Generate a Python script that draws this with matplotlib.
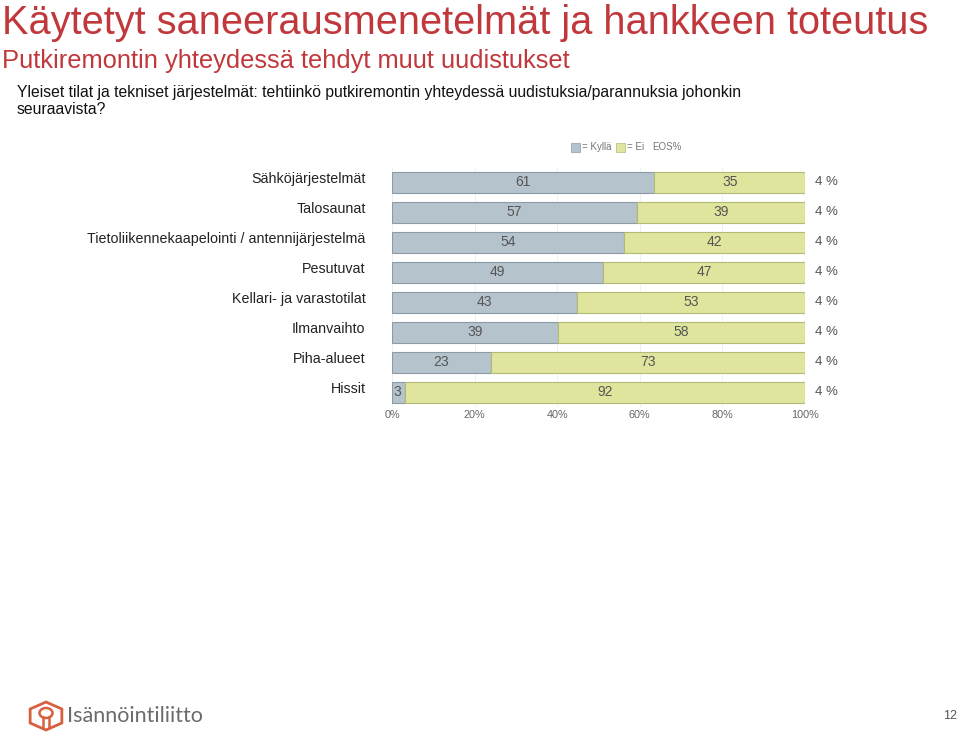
import matplotlib
matplotlib.use("Agg")
import matplotlib.pyplot as plt
from matplotlib.patches import Rectangle, RegularPolygon, Circle
from matplotlib.lines import Line2D
import matplotlib.transforms as mtrans
import numpy as np

categories = ["Sähköjärjestelmät", "Talosaunat", "Tietoliikennekaapelointi / antennijärjestelmä",
              "Pesutuvat", "Kellari- ja varastotilat", "Ilmanvaihto", "Piha-alueet", "Hissit"]
yes_vals = [61, 57, 54, 49, 43, 39, 23, 3]
no_vals = [35, 39, 42, 47, 53, 58, 73, 92]
eos_vals = [4, 4, 4, 4, 4, 4, 4, 4]
xticks = [0, 20, 40, 60, 80, 100]
xtick_labels = ["0%", "20%", "40%", "60%", "80%", "100%"]

base = "Liberation Sans"
plt.rcParams['font.family'] = [base, 'DejaVu Sans']

W, H = 959, 733
fig = plt.figure(figsize=(W / 100, H / 100), dpi=100)

def fx(px):
    return px / W

def fy(py):
    return 1 - py / H

red = "#c1383c"
fig.text(fx(2), fy(23), "Käytetyt saneerausmenetelmät ja hankkeen toteutus", fontsize=28.6,
         color=red, va="center", ha="left")
fig.text(fx(2), fy(61), "Putkiremontin yhteydessä tehdyt muut uudistukset", fontsize=18.4,
         color=red, va="center", ha="left")
fig.text(fx(17), fy(92), "Yleiset tilat ja tekniset järjestelmät: tehtiinkö putkiremontin yhteydessä uudistuksia/parannuksia johonkin",
         fontsize=11.3, color="#111111", va="center", ha="left")
fig.text(fx(17), fy(110), "seuraavista?", fontsize=11.3, color="#111111", va="center", ha="left")

yes_face = "#b5c3cd"
yes_edge = "#8c9ba6"
no_face = "#dfe59c"
no_edge = "#b3ba78"

# legend
leg_y = 147
fig.patches.append(Rectangle((fx(571), fy(leg_y + 5)), 9 / W, 9 / H, transform=fig.transFigure,
                             facecolor=yes_face, edgecolor=yes_edge, lw=0.5))
fig.text(fx(582), fy(leg_y), "= Kyllä", fontsize=7, color="#777777", va="center", ha="left")
fig.patches.append(Rectangle((fx(616), fy(leg_y + 5)), 9 / W, 9 / H, transform=fig.transFigure,
                             facecolor=no_face, edgecolor=no_edge, lw=0.5))
fig.text(fx(627), fy(leg_y), "= Ei", fontsize=7, color="#777777", va="center", ha="left")
fig.text(fx(652), fy(leg_y), "EOS%", fontsize=7, color="#777777", va="center", ha="left")

# axes
ax_left, ax_right = 392, 805
row_top, row_bottom = 167, 407
ax = fig.add_axes([fx(ax_left), fy(row_bottom), (ax_right - ax_left) / W, (row_bottom - row_top) / H])
n = len(categories)
y = np.arange(n)
yes = np.array(yes_vals, dtype=float)
no = np.array(no_vals, dtype=float)
tot = yes + no
yes_p = yes / tot * 100
no_p = no / tot * 100

ax.barh(y, yes_p, height=0.7, color=yes_face, edgecolor=yes_edge, lw=0.8, zorder=3)
ax.barh(y, no_p, left=yes_p, height=0.7, color=no_face, edgecolor=no_edge, lw=0.8, zorder=3)

for i in range(n):
    if yes_vals[i] >= 10:
        ax.text(yes_p[i] / 2, y[i], str(yes_vals[i]), ha="center", va="center", fontsize=10,
                color="#555555", zorder=4)
    else:
        ax.text(0.4, y[i], str(yes_vals[i]), ha="left", va="center", fontsize=10,
                color="#555555", zorder=4)
    ax.text(yes_p[i] + no_p[i] / 2, y[i], str(no_vals[i]), ha="center", va="center", fontsize=10,
            color="#555555", zorder=4)
    ax.text(102.5, y[i], f"{eos_vals[i]} %", ha="left", va="center", fontsize=9.5, color="#555555",
            clip_on=False)

ax.set_xlim(0, 100)
ax.set_ylim(n - 0.5, -0.5)
ax.set_yticks(y)
ax.set_yticklabels(categories, fontsize=10.3, color="#222222")
ax.tick_params(axis="y", length=0, pad=19)
for lbl in ax.get_yticklabels():
    lbl.set_verticalalignment("center")
    lbl.set_transform(lbl.get_transform() + mtrans.ScaledTranslation(0, 3 / 100, fig.dpi_scale_trans))
ax.set_xticks(xticks)
ax.set_xticklabels(xtick_labels, fontsize=7.8, color="#666666")
ax.tick_params(axis="x", length=0, pad=2)
for s in ax.spines.values():
    s.set_visible(False)
ax.grid(axis="x", color="#eeeeee", lw=0.6, zorder=0)
ax.set_axisbelow(True)

# logo
logo_c = "#d9603f"
cx, cy = 46, 716
fig.patches.append(RegularPolygon((fx(cx), fy(cy)), numVertices=6, radius=14 / H,
                                  orientation=0, transform=fig.transFigure,
                                  facecolor="none", edgecolor=logo_c, lw=2.0))
fig.patches.append(Circle((fx(cx), fy(cy - 3)), 5 / H, transform=fig.transFigure,
                          facecolor="none", edgecolor=logo_c, lw=1.8))
fig.lines.append(Line2D([fx(cx - 3), fx(cx - 3)], [fy(cy + 1), fy(cy + 11)], transform=fig.transFigure,
                        color=logo_c, lw=1.8))
fig.lines.append(Line2D([fx(cx + 3), fx(cx + 3)], [fy(cy + 1), fy(cy + 11)], transform=fig.transFigure,
                        color=logo_c, lw=1.8))
fig.text(fx(67), fy(716), "Isännöintiliitto", fontsize=15.5, color="#6b6b6b", va="center", ha="left",
         family=["Lato", "DejaVu Sans"])
fig.text(fx(957), fy(716), "12", fontsize=9, color="#555555", va="center", ha="right")

fig.savefig("out.png", dpi=100)
